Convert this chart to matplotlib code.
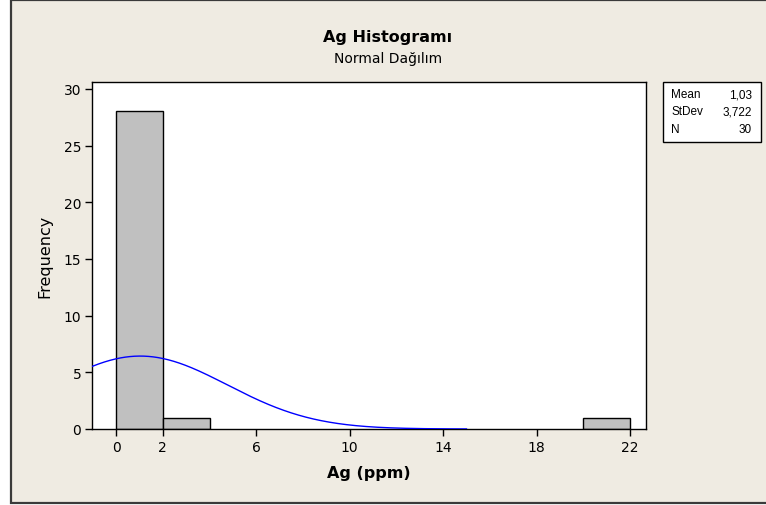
import numpy as np
import matplotlib
matplotlib.use("Agg")
import matplotlib.pyplot as plt
from matplotlib.patches import Rectangle

# ---- data ----
bin_edges_left = [0, 2, 20]
bin_counts = [28, 1, 1]
bin_width = 2
x_ticks = [0, 2, 6, 10, 14, 18, 22]
y_ticks = [0, 5, 10, 15, 20, 25, 30]
stat_names = ["Mean", "StDev", "N"]
stat_labels = ["1,03", "3,722", "30"]
mean_val = 1.03
sd_val = 3.722
n_val = 30
title = "Ag Histogramı"
subtitle = "Normal Dağılım"
xlabel = "Ag (ppm)"
ylabel = "Frequency"

plt.rcParams['font.family'] = ['DejaVu Sans']

W, H = 766, 506
fig = plt.figure(figsize=(W / 100, H / 100), dpi=100, facecolor="white")

# outer beige panel with dark frame
panel = Rectangle((10.5 / W, 2.5 / H), (W + 10) / W, (H - 3.3) / H,
                  transform=fig.transFigure, facecolor="#EFEBE2",
                  edgecolor="#3a3a3a", linewidth=1.6, zorder=-10)
fig.patches.append(panel)

ax = fig.add_axes([92.3 / W, (H - 430) / H, (646.3 - 92.3) / W, (430 - 83) / H])
ax.set_facecolor("white")
ax.set_zorder(1)

ax.bar(bin_edges_left, bin_counts, width=bin_width, align="edge",
       color="#C0C0C0", edgecolor="black", linewidth=1.0, zorder=2)

xmin, xmax = -1.02, 22.7
xs = np.linspace(xmin, 15.0, 400)
ys = n_val * bin_width * np.exp(-0.5 * ((xs - mean_val) / sd_val) ** 2) / (sd_val * np.sqrt(2 * np.pi))
ax.plot(xs, ys, color="#0000FF", linewidth=1.0, zorder=3, clip_on=True)

ax.set_xlim(xmin, xmax)
ax.set_ylim(0, 30.6)
ax.set_xticks(x_ticks)
ax.set_xticklabels([str(t) for t in x_ticks])
ax.set_yticks(y_ticks)
ax.set_yticklabels([str(t) for t in y_ticks])
ax.tick_params(axis="both", direction="out", length=5, width=1.0,
               labelsize=10, colors="black", pad=3)
ax.tick_params(top=False, right=False)
for s in ax.spines.values():
    s.set_color("black")
    s.set_linewidth(1.0)

tx = 388 / W
fig.text(tx, 1 - 42 / H, title, ha="center", va="baseline", fontsize=11.5, fontweight="bold")
fig.text(tx, 1 - 63 / H, subtitle, ha="center", va="baseline", fontsize=10)
fig.text(369.3 / W, 1 - 474 / H, xlabel, ha="center", va="center", fontsize=11.5, fontweight="bold")
fig.text(45 / W, 1 - 256 / H, ylabel, ha="center", va="center", fontsize=11.5, rotation=90)

# stats box
box = Rectangle((663 / W, 1 - 143 / H), (761 - 663) / W, (143 - 83) / H,
                transform=fig.transFigure, facecolor="white",
                edgecolor="black", linewidth=1.0, zorder=1)
fig.patches.append(box)
for i, (nm, lb) in enumerate(zip(stat_names, stat_labels)):
    yy = 1 - (95 + i * 17.5) / H
    fig.text(671 / W, yy, nm, ha="left", va="center", fontsize=8.5, zorder=2,
             family=['Liberation Sans Narrow', 'Liberation Sans'])
    fig.text(752 / W, yy, lb, ha="right", va="center", fontsize=8.5, zorder=2,
             family=['Liberation Sans Narrow', 'Liberation Sans'])

fig.savefig("out.png", dpi=100, facecolor=fig.get_facecolor())
